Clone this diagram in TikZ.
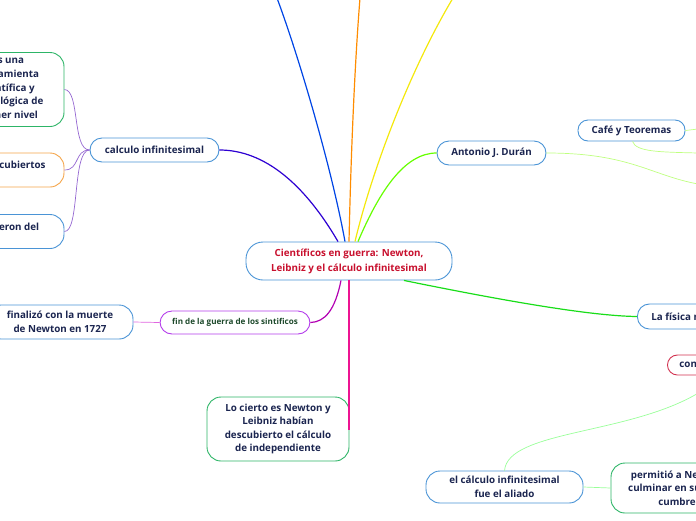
\documentclass[tikz,border=0pt]{standalone}
\usepackage{fontspec}
\setmainfont{Open Sans}
\usepackage{tikz}
\usetikzlibrary{positioning}
\usepackage{xcolor}

\definecolor{navytext}{HTML}{1B2550}
\definecolor{titlered}{HTML}{C8102E}
\definecolor{boxblue}{HTML}{4A94D6}
\definecolor{boxgreen}{HTML}{2DB567}
\definecolor{boxorange}{HTML}{F5A54A}
\definecolor{boxpurple}{HTML}{B43CEB}
\definecolor{boxred}{HTML}{D23250}
\definecolor{finegreen}{HTML}{1E4A2C}

\tikzset{
  topic/.style={draw=#1, line width=0.9pt, fill=white, rounded corners=12pt,
    inner sep=0pt, align=center, text=navytext,
    font=\bfseries\fontsize{9.8}{13.6}\selectfont},
  topic/.default=boxblue,
  branch/.style={line width=1.2pt, #1},
  twig/.style={line width=0.7pt, #1}
}

\begin{document}
\begin{tikzpicture}[x=1pt,y=-1pt]
    \useasboundingbox (0,0) rectangle (696,520);

    \node[topic, minimum width=206, minimum height=38, rounded corners=17pt,
          text=titlered, font=\bfseries\fontsize{9.8}{15}\selectfont] (main) at (349,261)
          {Científicos en guerra: Newton,\\Leibniz y el cálculo infinitesimal};

    \node[topic, minimum width=129, minimum height=24] (calc) at (154.5,150) {calculo infinitesimal};
    \node[topic=boxgreen, minimum width=112, minimum height=74, rounded corners=14pt] (herr) at (8,89.5)
          {es una\\herramienta\\científica y\\tecnológica de\\primer nivel};
    \node[topic=boxorange, minimum width=100, minimum height=34, rounded corners=14pt,
          text height=7pt, text depth=10pt] (desc) at (14,170) {descubiertos};
    \node[topic, minimum width=100, minimum height=34, rounded corners=14pt,
          text height=7pt, text depth=10pt] (fueron) at (14,231.5) {fueron del};

    \node[topic=boxpurple, minimum width=150, minimum height=23, text=finegreen,
          font=\bfseries\fontsize{8.1}{10}\selectfont] (fin) at (235,322.5)
          {fin de la guerra de los sintificos};
    \node[topic, minimum width=146, minimum height=34, rounded corners=14pt] (finalizo) at (60,322)
          {finalizó con la muerte\\de Newton en 1727};
    \node[topic=boxgreen, minimum width=142, minimum height=64, rounded corners=14pt] (cierto) at (278,429)
          {Lo cierto es Newton y\\Leibniz habían\\descubierto el cálculo\\de independiente};

    \node[topic, minimum width=109, minimum height=24] (duran) at (491.5,153) {Antonio J. Durán};
    \node[topic, minimum width=107, minimum height=21, rounded corners=10pt] (cafe) at (631.5,130.5) {Café y Teoremas};
    \node[topic, anchor=west, minimum height=25, inner xsep=14pt] (fisica) at (637,316.5) {La física newtoniana};
    \node[topic=boxred, anchor=west, minimum height=20, inner xsep=12pt, rounded corners=10pt] (con) at (667,365) {con};

    \node[topic, minimum width=157, minimum height=32, rounded corners=14pt] (aliado) at (504.5,487)
          {el cálculo infinitesimal\\fue el aliado};
    \node[topic=boxgreen, minimum width=132, minimum height=50, rounded corners=14pt] (permitio) at (677,488)
          {permitió a Newton\\culminar en su obra\\cumbre};

    \coordinate (topA) at (277,-2);
    \coordinate (topB) at (360,-2);
    \coordinate (topC) at (453,-2);
    \coordinate (edgeA) at (698,184);
    \coordinate (edgeB) at (698,129);
    \coordinate (edgeC) at (698,153);
    \coordinate (edgeD) at (700,392);

    \draw[branch={blue!70!cyan!90!black}] ([xshift=-4]main.north) .. controls (332,170) and (300,60) .. (topA);
    \draw[branch={orange!90!yellow}] (main.north) .. controls (351,150) and (355,60) .. (topB);
    \draw[branch={yellow!95!black}] ([xshift=6]main.north) .. controls (372,170) and (410,70) .. (topC);
    \draw[branch={green!60!yellow}] ([xshift=9]main.north) .. controls (380,190) and (405,153) .. (duran.west);
    \draw[branch={blue!65!violet}] ([xshift=-11]main.north) .. controls (305,185) and (265,150) .. (calc.east);
    \draw[branch={green!85!black!90}] ([xshift=55]main.south) .. controls (500,300) and (590,316) .. (fisica.west);
    \draw[branch={violet!60!magenta}] ([xshift=-8]main.south) .. controls (335,310) and (325,322) .. (fin.east);
    \draw[branch={magenta!90!pink}] (main.south) -- (main.south |- cierto.east) -- (cierto.east);

    \draw[twig={blue!40!violet!60}] (calc.west) .. controls (72,150) and (80,90) .. (herr.east);
    \draw[twig={blue!40!violet!60}] (calc.west) .. controls (74,150) and (80,170) .. (desc.east);
    \draw[twig={blue!40!violet!60}] (calc.west) .. controls (72,150) and (80,232) .. (fueron.east);
    \draw[twig={violet!40!magenta!60}] (fin.west) -- (finalizo.east);

    \draw[twig={green!50!yellow!50}] (duran.east) .. controls (630,153) and (650,175) .. (edgeA);
    \draw[twig={green!50!yellow!50}] (cafe.east) -- (edgeB);
    \draw[twig={green!50!yellow!50}] ([xshift=1]cafe.south) .. controls (636,152) and (660,152) .. (edgeC);
    \draw[twig={green!40}] (aliado.north) .. controls (508,430) and (630,435) .. (edgeD);
    \draw[twig={green!40}] (aliado.east) -- (permitio.west);
\end{tikzpicture}
\end{document}
